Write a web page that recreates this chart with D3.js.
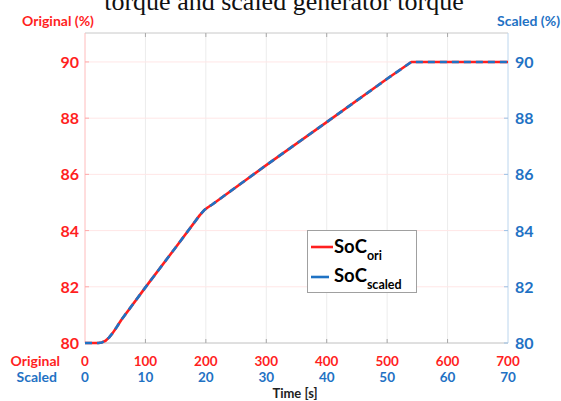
<!DOCTYPE html>
<html><head><meta charset="utf-8">
<script src="https://cdn.jsdelivr.net/npm/d3@7/dist/d3.min.js"></script>
<style>body{margin:0;background:#fff;}svg{display:block;}</style>
</head><body><svg id="c" width="561" height="401"></svg>
<script>
// Data
const timeOri = [0, 22, 28, 34, 40, 46, 52, 60, 100, 150, 190, 197, 203, 210, 300, 400, 500, 540, 600, 700];
const socVals = [80, 80, 80.02, 80.08, 80.2, 80.36, 80.55, 80.82, 81.98, 83.4, 84.55, 84.72, 84.82, 84.92, 86.33, 87.86, 89.4, 90, 90, 90];
const xTicksOri = [0, 100, 200, 300, 400, 500, 600, 700];
const xTicksScaled = [0, 10, 20, 30, 40, 50, 60, 70];
const yTicks = [80, 82, 84, 86, 88, 90];

const RED = "#ff1f1f", BLUE = "#1f72c4";
const FONT = "Lato, 'Open Sans', sans-serif";
const svg = d3.select("#c");
const L = 85, R = 508, T = 33, B = 343;
const x = d3.scaleLinear().domain([0, 700]).range([L, R]);
const y = d3.scaleLinear().domain([80, 91.03]).range([B, T]);

// title (cropped at the top edge, as in the reference)
svg.append("text").attr("x", 284).attr("y", 10).attr("text-anchor", "middle")
  .attr("font-family", "'Liberation Serif', 'Times New Roman', serif").attr("font-size", 26)
  .attr("fill", "#111").text("torque and scaled generator torque");

// grid
svg.append("g").selectAll("line").data(xTicksOri.slice(1, -1)).join("line")
  .attr("x1", d => x(d)).attr("x2", d => x(d)).attr("y1", T).attr("y2", B)
  .attr("stroke", "#ececec").attr("stroke-width", 1);
svg.append("g").selectAll("line").data(yTicks.slice(1)).join("line")
  .attr("x1", L).attr("x2", R).attr("y1", d => y(d)).attr("y2", d => y(d))
  .attr("stroke", "#ffe6e6").attr("stroke-width", 1);

// frame
svg.append("line").attr("x1", L).attr("x2", R).attr("y1", T).attr("y2", T).attr("stroke", "#c8c8c8");
svg.append("line").attr("x1", L).attr("x2", R).attr("y1", B).attr("y2", B).attr("stroke", "#c0c0c0");
svg.append("line").attr("x1", L).attr("x2", L).attr("y1", T).attr("y2", B).attr("stroke", "#ffbcbc");
svg.append("line").attr("x1", R).attr("x2", R).attr("y1", T).attr("y2", B).attr("stroke", "#bcd6ee");

// tick marks
svg.append("g").selectAll("line").data(xTicksOri.slice(1, -1)).join("line")
  .attr("x1", d => x(d)).attr("x2", d => x(d)).attr("y1", B).attr("y2", B - 4).attr("stroke", "#a8a8a8");
svg.append("g").selectAll("line").data(xTicksOri.slice(1, -1)).join("line")
  .attr("x1", d => x(d)).attr("x2", d => x(d)).attr("y1", T).attr("y2", T + 4).attr("stroke", "#a8a8a8");
svg.append("g").selectAll("line").data(yTicks).join("line")
  .attr("x1", L).attr("x2", L + 4).attr("y1", d => y(d)).attr("y2", d => y(d)).attr("stroke", "#ffaaaa");
svg.append("g").selectAll("line").data(yTicks).join("line")
  .attr("x1", R).attr("x2", R - 4).attr("y1", d => y(d)).attr("y2", d => y(d)).attr("stroke", "#9cc2e6");

// y tick labels
svg.append("g").selectAll("text").data(yTicks).join("text")
  .attr("x", L - 6).attr("y", d => y(d) + 6).attr("text-anchor", "end")
  .attr("font-family", FONT).attr("font-weight", "bold").attr("font-size", 16).attr("fill", RED).text(d => d);
svg.append("g").selectAll("text").data(yTicks).join("text")
  .attr("x", R + 7).attr("y", d => y(d) + 6).attr("text-anchor", "start")
  .attr("font-family", FONT).attr("font-weight", "bold").attr("font-size", 16).attr("fill", BLUE).text(d => d);

// axis titles
svg.append("text").attr("x", 22).attr("y", 26).attr("font-family", FONT).attr("font-weight", "bold")
  .attr("font-size", 14).attr("fill", RED).text("Original (%)");
svg.append("text").attr("x", 560).attr("y", 26).attr("text-anchor", "end").attr("font-family", FONT).attr("font-weight", "bold")
  .attr("font-size", 14).attr("fill", BLUE).text("Scaled (%)");

// x tick labels
svg.append("g").selectAll("text").data(xTicksOri).join("text")
  .attr("x", d => x(d)).attr("y", 366).attr("text-anchor", "middle")
  .attr("font-family", FONT).attr("font-weight", "bold").attr("font-size", 13.5).attr("fill", RED).text(d => d);
svg.append("g").selectAll("text").data(xTicksScaled).join("text")
  .attr("x", (d, i) => x(xTicksOri[i])).attr("y", 382).attr("text-anchor", "middle")
  .attr("font-family", FONT).attr("font-weight", "bold").attr("font-size", 13.5).attr("fill", BLUE).text(d => d);
svg.append("text").attr("x", 60).attr("y", 366).attr("text-anchor", "end").attr("font-family", FONT)
  .attr("font-weight", "bold").attr("font-size", 14).attr("fill", RED).text("Original");
svg.append("text").attr("x", 57).attr("y", 382).attr("text-anchor", "end").attr("font-family", FONT)
  .attr("font-weight", "bold").attr("font-size", 14).attr("fill", BLUE).text("Scaled");
svg.append("text").attr("x", 295).attr("y", 398).attr("text-anchor", "middle").attr("font-family", FONT)
  .attr("font-weight", "bold").attr("font-size", 13).attr("fill", "#222").text("Time [s]");

// lines
const line = d3.line().x((d, i) => x(timeOri[i])).y(d => y(d));
svg.append("path").attr("d", line(socVals)).attr("fill", "none").attr("stroke", RED).attr("stroke-width", 2.6)
  .attr("stroke-linejoin", "round");
svg.append("path").attr("d", line(socVals)).attr("fill", "none").attr("stroke", BLUE).attr("stroke-width", 2.6)
  .attr("stroke-dasharray", "7,5").attr("stroke-linejoin", "round");

// legend
const lg = svg.append("g");
lg.append("rect").attr("x", 307.5).attr("y", 230.5).attr("width", 109).attr("height", 62)
  .attr("fill", "#fff").attr("stroke", "#a0a0a0");
lg.append("line").attr("x1", 311).attr("x2", 333).attr("y1", 247).attr("y2", 247).attr("stroke", RED).attr("stroke-width", 2.6);
lg.append("line").attr("x1", 311).attr("x2", 329).attr("y1", 277).attr("y2", 277).attr("stroke", BLUE).attr("stroke-width", 2.6);
const t1 = lg.append("text").attr("x", 334).attr("y", 253).attr("font-family", FONT).attr("font-weight", "bold").attr("fill", "#000");
t1.append("tspan").attr("font-size", 18.5).text("SoC");
t1.append("tspan").attr("font-size", 12.5).attr("dy", 7).text("ori");
const t2 = lg.append("text").attr("x", 334).attr("y", 282).attr("font-family", FONT).attr("font-weight", "bold").attr("fill", "#000");
t2.append("tspan").attr("font-size", 18.5).text("SoC");
t2.append("tspan").attr("font-size", 12.5).attr("dy", 7).text("scaled");
</script></body></html>
